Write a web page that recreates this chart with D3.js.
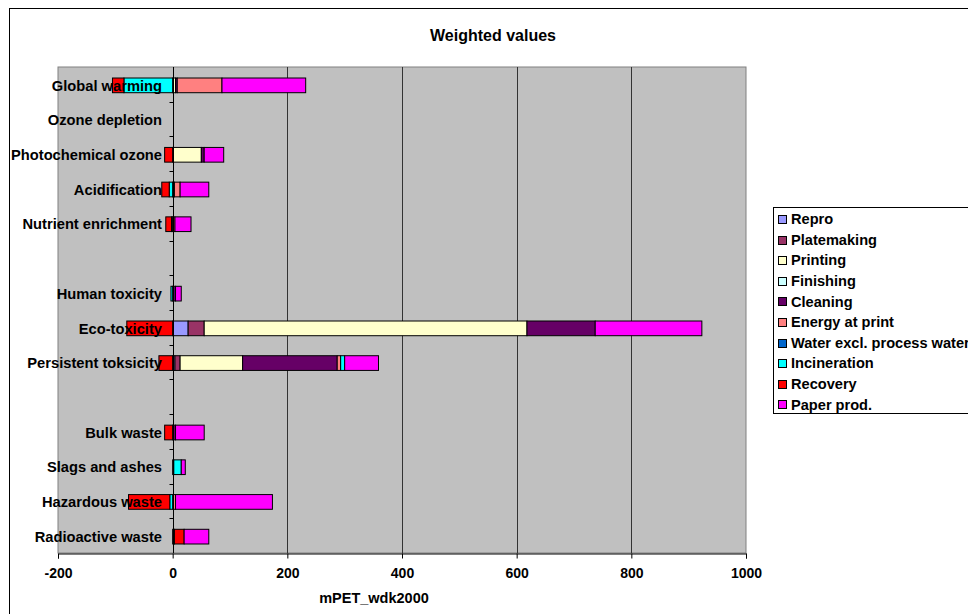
<!DOCTYPE html>
<html>
<head>
<meta charset="utf-8">
<script src="https://cdn.jsdelivr.net/npm/d3@7"></script>
<style>
  html, body { margin: 0; padding: 0; background: #fff; }
  svg { display: block; }
  text { font-family: "Liberation Sans", Arial, sans-serif; font-weight: bold; fill: #000; }
</style>
</head>
<body>
<svg id="chart" width="968" height="614"></svg>
<script>
// ---- data ----
const categories = ["Global warming","Ozone depletion","Photochemical ozone","Acidification","Nutrient enrichment","","Human toxicity","Eco-toxicity","Persistent toksicity","","Bulk waste","Slags and ashes","Hazardous waste","Radioactive waste"];
const seriesNames = ["Repro","Platemaking","Printing","Finishing","Cleaning","Energy at print","Water excl. process water","Incineration","Recovery","Paper prod."];
const seriesColors = ["#9999FF","#993366","#FFFFCC","#CCFFFF","#660066","#FF8080","#0066CC","#00FFFF","#FF0000","#FF00FF"];
const repro       = [0, 0, 0, 0, 0, 0, 0, 27, 4, 0, 0, 0, 0, 0];
const platemaking = [0, 0, 0, 0, 0, 0, 0, 28, 9, 0, 0, 0, 0, 0];
const printing    = [5, 0, 50, 0, 0, 0, 0, 563, 109, 0, 0, 0, 0, 0];
const finishing   = [0, 0, 0, 0, 0, 0, 0, 0, 0, 0, 0, 0, 0, 0];
const cleaning    = [3, 0, 5, 3, -2, 0, 5, 119, 165, 0, 5, 2, 0, 3];
const energyPrint = [78, 0, 0, 10, 4, 0, 0, 0, 6, 0, 0, 0, 5, 0];
const water       = [0, 0, 0, 0, 0, 0, 0, 0, 0, 0, 0, 0, 0, 0];
const incineration= [-85, 0, 0, -6, 0, 0, -3, 0, 7, 0, 0, 13, -5, 0];
const recovery    = [-20, 0, -14, -13, -10, 0, 0, -80, -24, 0, -14, 0, -72, 17];
const paperProd   = [146, 0, 34, 50, 28, 0, 10, 186, 59, 0, 50, 7, 169, 43];
const xTicks = [-200, 0, 200, 400, 600, 800, 1000];
const chartTitle = "Weighted values";
const xTitle = "mPET_wdk2000";

const seriesValues = [repro, platemaking, printing, finishing, cleaning, energyPrint, water, incineration, recovery, paperProd];

// ---- layout ----
const svg = d3.select("#chart");
const L = 58, R = 746, T = 67, B = 553;

const x = d3.scaleLinear().domain([-200, 1000]).range([L, R]);
const y = d3.scaleBand().domain(categories.map((d, i) => i)).range([T, B]).paddingInner(0).paddingOuter(0);
const barH = 14.7;

// outer chart border
svg.append("rect").attr("x", 9.5).attr("y", 8.5).attr("width", 1000).attr("height", 700)
  .attr("fill", "#fff").attr("stroke", "#000").attr("stroke-width", 1);

// plot area
svg.append("rect").attr("x", L).attr("y", T).attr("width", R - L).attr("height", B - T)
  .attr("fill", "#C0C0C0").attr("stroke", "#808080").attr("stroke-width", 1);

// gridlines
svg.append("g").selectAll("line").data(xTicks.filter(t => t > 0 && t < 1000)).join("line")
  .attr("x1", d => Math.round(x(d)) + 0.5).attr("x2", d => Math.round(x(d)) + 0.5)
  .attr("y1", T).attr("y2", B).attr("stroke", "#333").attr("stroke-width", 1);

// stacked data
const rows = categories.map((c, i) => {
  const o = { idx: i };
  seriesNames.forEach((s, j) => { o[s] = seriesValues[j][i]; });
  return o;
});
const stack = d3.stack().keys(seriesNames).offset(d3.stackOffsetDiverging);
const stacked = stack(rows);

const barsG = svg.append("g");
stacked.forEach((layer, j) => {
  barsG.selectAll(null).data(layer.filter(d => d[1] !== d[0])).join("rect")
    .attr("x", d => x(Math.min(d[0], d[1])))
    .attr("width", d => Math.abs(x(d[1]) - x(d[0])))
    .attr("y", d => y(d.data.idx) + y.bandwidth() / 2 - barH / 2 + 1)
    .attr("height", barH)
    .attr("fill", seriesColors[j])
    .attr("stroke", "#000").attr("stroke-width", 1);
});

// category axis at x = 0
const x0 = Math.round(x(0)) + 0.5;
svg.append("line").attr("x1", x0).attr("x2", x0).attr("y1", T).attr("y2", B)
  .attr("stroke", "#000").attr("stroke-width", 1);
svg.append("g").selectAll("line").data(d3.range(1, categories.length)).join("line")
  .attr("x1", x0 - 4).attr("x2", x0)
  .attr("y1", d => Math.round(T + d * y.step()) + 0.5)
  .attr("y2", d => Math.round(T + d * y.step()) + 0.5)
  .attr("stroke", "#000");

// category labels
svg.append("g").selectAll("text").data(categories.map((c, i) => ({ c, i })).filter(d => d.c)).join("text")
  .attr("x", 162)
  .attr("y", d => y(d.i) + y.bandwidth() / 2 + 1)
  .attr("dy", "0.35em")
  .attr("text-anchor", "end")
  .attr("font-size", "14.7px")
  .text(d => d.c);

// x axis
const xAxisG = svg.append("g").attr("transform", `translate(0,${B + 0.5})`)
  .call(d3.axisBottom(x).tickValues(xTicks).tickSize(5).tickPadding(10).tickFormat(d => String(d)));
xAxisG.select(".domain").attr("stroke", "#000");
xAxisG.selectAll(".tick line").attr("stroke", "#000");
xAxisG.selectAll(".tick text").attr("font-size", "14px").attr("font-family", "Liberation Sans, Arial, sans-serif")
  .attr("font-weight", "bold").attr("fill", "#000");

// titles
svg.append("text").attr("x", 493).attr("y", 41).attr("text-anchor", "middle").attr("font-size", "16px").text(chartTitle);
svg.append("text").attr("x", 374).attr("y", 603).attr("text-anchor", "middle").attr("font-size", "14.5px").text(xTitle);

// legend
const lg = svg.append("g");
lg.append("rect").attr("x", 773.5).attr("y", 207.5).attr("width", 300).attr("height", 206)
  .attr("fill", "#fff").attr("stroke", "#000");
seriesNames.forEach((s, i) => {
  const cy = 219 + i * 20.6;
  lg.append("rect").attr("x", 778.5).attr("y", Math.round(cy - 4) + 0.5).attr("width", 8).attr("height", 8)
    .attr("fill", seriesColors[i]).attr("stroke", "#000");
  lg.append("text").attr("x", 791).attr("y", cy).attr("dy", "0.36em").attr("font-size", "14.6px").text(s);
});
</script>
</body>
</html>
